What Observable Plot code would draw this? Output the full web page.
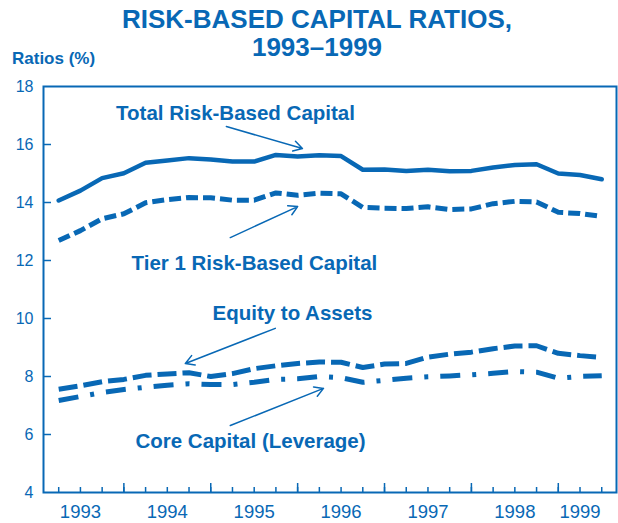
<!DOCTYPE html>
<html><head><meta charset="utf-8">
<script src="https://cdn.jsdelivr.net/npm/d3@7"></script>
<script src="https://cdn.jsdelivr.net/npm/@observablehq/plot@0.6"></script>
<style>
body{margin:0;background:#fff;font-family:"Liberation Sans",Arial,sans-serif;}
#wrap{position:relative;width:618px;height:523px;overflow:hidden;}
#head{position:relative;height:62px;}
.t{position:absolute;left:8px;width:618px;text-align:center;font-weight:bold;font-size:26px;line-height:26px;color:#0868b5;white-space:nowrap;}
#ylab{position:absolute;left:12px;top:50px;font-weight:bold;font-size:17px;line-height:17px;color:#0868b5;white-space:nowrap;}
</style></head><body>
<div id="wrap">
  <div id="head">
    <div class="t" style="top:6px">RISK-BASED CAPITAL RATIOS,</div>
    <div class="t" style="top:34px">1993–1999</div>
    <div id="ylab">Ratios (%)</div>
  </div>
  <div id="chart"></div>
</div>
<script>
// Quarterly observations, 1993 Q1 – 1999 Q2
const quarters = ["1993Q1","1993Q2","1993Q3","1993Q4","1994Q1","1994Q2","1994Q3","1994Q4",
  "1995Q1","1995Q2","1995Q3","1995Q4","1996Q1","1996Q2","1996Q3","1996Q4",
  "1997Q1","1997Q2","1997Q3","1997Q4","1998Q1","1998Q2","1998Q3","1998Q4","1999Q1","1999Q2"];
const totalRBC = [14.07,14.41,14.84,15.01,15.37,15.45,15.53,15.48,15.41,15.41,15.64,15.59,15.63,
  15.60,15.13,15.14,15.09,15.13,15.08,15.09,15.21,15.29,15.32,15.00,14.95,14.80];
const tier1RBC = [12.69,13.03,13.44,13.61,13.99,14.10,14.17,14.16,14.08,14.08,14.33,14.25,14.32,
  14.30,13.83,13.80,13.79,13.85,13.76,13.78,13.96,14.04,14.02,13.66,13.62,13.52];
const equityToAssets = [7.56,7.68,7.82,7.90,8.04,8.09,8.13,8.00,8.10,8.27,8.37,8.45,8.50,
  8.49,8.31,8.43,8.45,8.67,8.77,8.84,8.96,9.05,9.06,8.80,8.72,8.66];
const coreCapital = [7.17,7.31,7.45,7.55,7.63,7.70,7.75,7.72,7.72,7.80,7.90,7.92,8.00,
  7.96,7.80,7.87,7.94,7.99,8.02,8.06,8.11,8.17,8.15,7.94,8.00,8.03];

const yTicks = [4,6,8,10,12,14,16,18];
const yearLabels = ["1993","1994","1995","1996","1997","1998","1999"];
const yearLabelQuarter = [1,5,9,13,17,21,24];      // quarter index where each year label sits
const majorTickQuarter = [3,7,11,15,19,23];

const labels = [
  {label:"Total Risk-Based Capital", q:8.14, v:17.07},
  {label:"Tier 1 Risk-Based Capital", q:9.01, v:11.90},
  {label:"Equity to Assets", q:10.76, v:10.17},
  {label:"Core Capital (Leverage)", q:8.83, v:5.76}
];
const arrows = [
  {q1:7.72, v1:16.62, q2:11.22, v2:15.86},
  {q1:7.90, v1:12.79, q2:11.00, v2:13.86},
  {q1:9.97, v1:9.66, q2:5.83, v2:8.45},
  {q1:7.90, v1:6.31, q2:12.19, v2:7.59}
];

const C = "#0868b5";
const W = 618, H = 461, mT = 24, mB = 31, mL = 43, mR = 2;
const fw = W - mL - mR, fh = H - mT - mB;
const idx = quarters.map((d, i) => i);

const chart = Plot.plot({
  width: W, height: H,
  marginTop: mT, marginBottom: mB, marginLeft: mL, marginRight: mR,
  style: {color: C, background: "white", fontFamily: "Liberation Sans, Arial, sans-serif", overflow: "visible"},
  x: {domain: [-0.7, 25.68], axis: null},
  y: {domain: [4, 18], axis: null},
  marks: [
    Plot.ruleY(yTicks.slice(1, -1), {y: d => d, stroke: C, strokeWidth: 1.5, insetRight: fw - 8}),
    Plot.ruleX(idx, {x: d => d, stroke: C, strokeWidth: 1.5, insetTop: fh - 5}),
    Plot.ruleX(majorTickQuarter, {x: d => d, stroke: C, strokeWidth: 1.5, insetTop: fh - 9}),
    Plot.frame({stroke: C, strokeWidth: 2}),
    Plot.axisY({ticks: yTicks, tickSize: 0, tickPadding: 10, fontSize: 16, fill: C, label: null}),
    Plot.axisX({ticks: yearLabelQuarter, tickFormat: d => yearLabels[yearLabelQuarter.indexOf(d)],
      tickSize: 0, tickPadding: 12, fontSize: 18.5, fill: C, label: null}),
    Plot.line(idx, {x: d => d, y: i => totalRBC[i], stroke: C, strokeWidth: 4.5}),
    Plot.line(idx, {x: d => d, y: i => tier1RBC[i], stroke: C, strokeWidth: 5, strokeDasharray: "12,5", strokeLinecap: "butt"}),
    Plot.line(idx, {x: d => d, y: i => equityToAssets[i], stroke: C, strokeWidth: 5, strokeDasharray: "19,6", strokeLinecap: "butt"}),
    Plot.line(idx, {x: d => d, y: i => coreCapital[i], stroke: C, strokeWidth: 5, strokeDasharray: "20,12,4,12", strokeLinecap: "butt"}),
    Plot.arrow(arrows, {x1: "q1", y1: "v1", x2: "q2", y2: "v2", stroke: C, strokeWidth: 1.5, headLength: 10}),
    Plot.text(labels, {x: "q", y: "v", text: "label", fill: C, fontSize: 20.5, fontWeight: "bold"})
  ]
});
document.getElementById("chart").appendChild(chart);
</script>
</body></html>
